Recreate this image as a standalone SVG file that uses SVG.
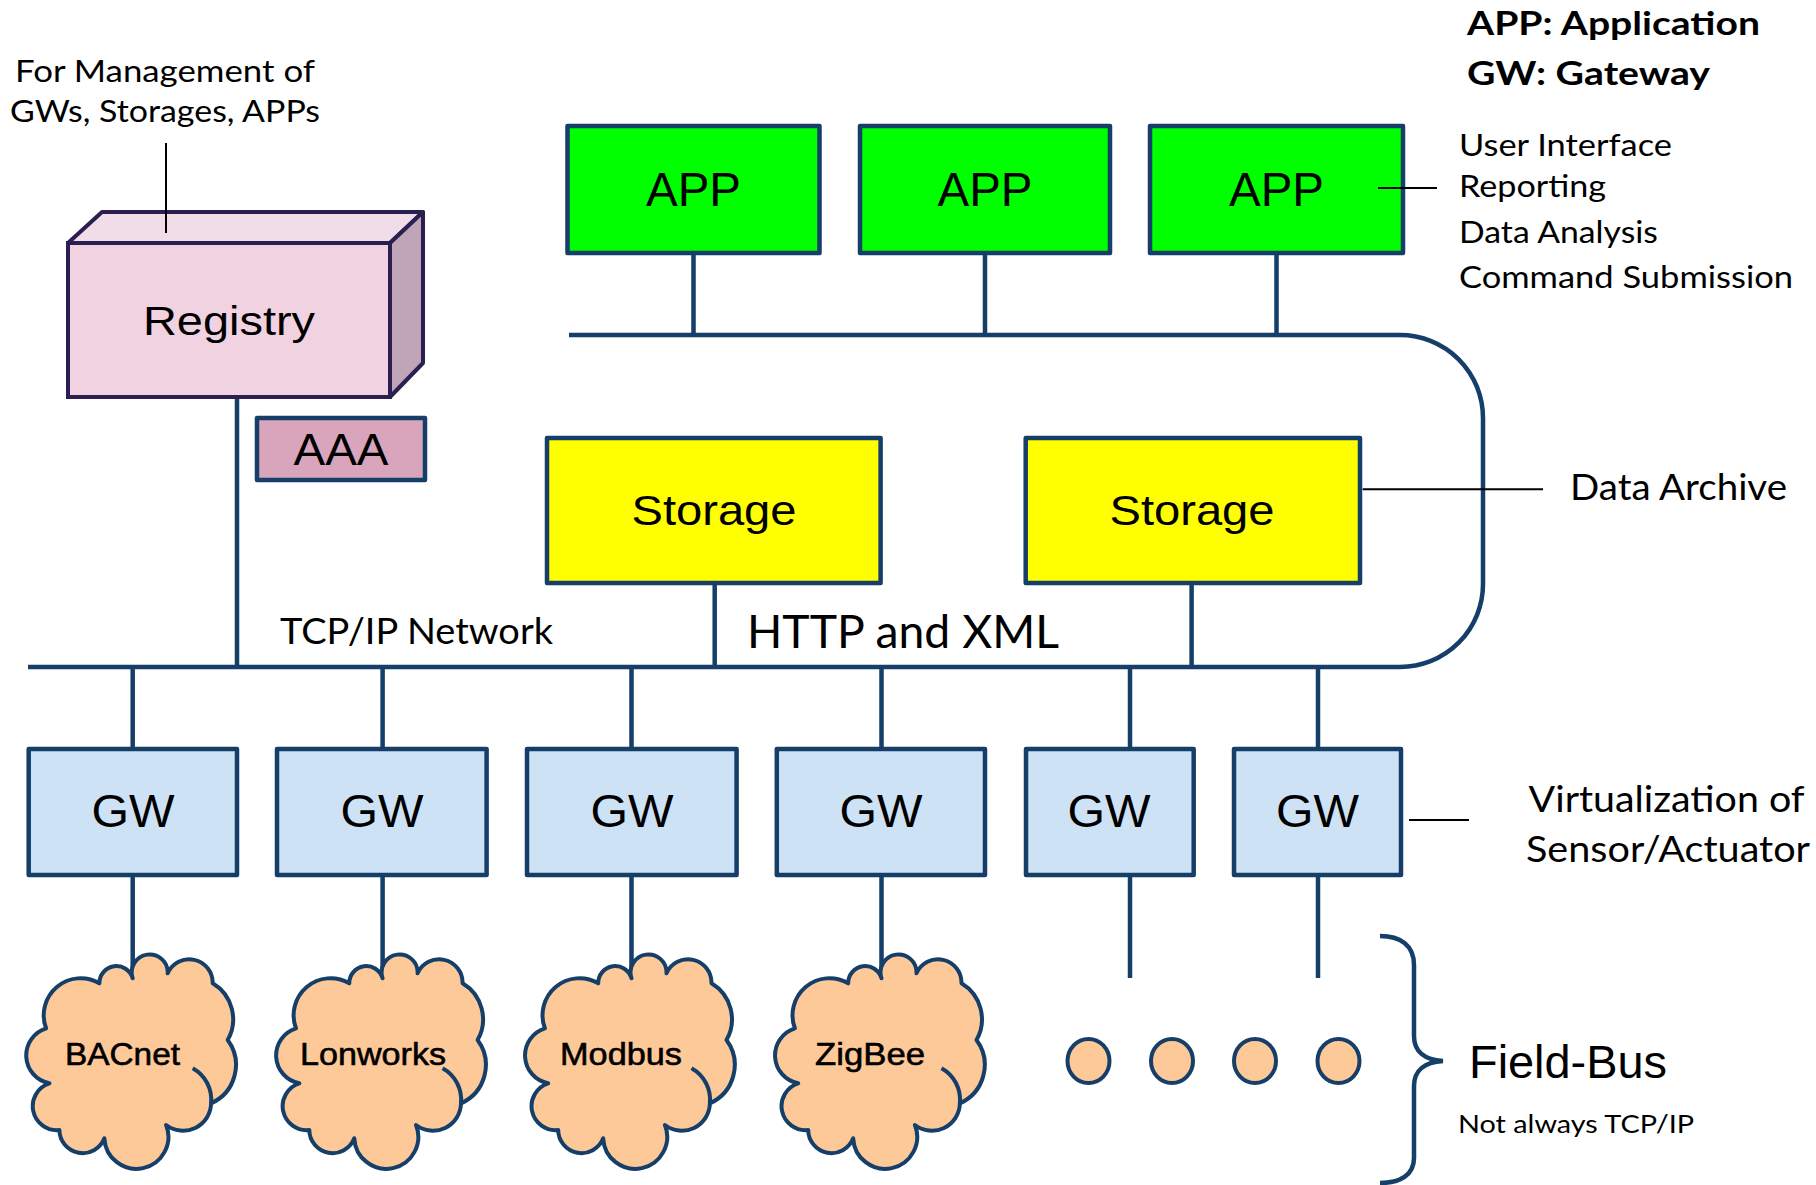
<svg xmlns="http://www.w3.org/2000/svg" width="1816" height="1185" viewBox="0 0 1816 1185">
<defs>
<style>
.bx{stroke:#153e69;stroke-width:4.5;stroke-linejoin:round}
.app{fill:#00ff00}
.sto{fill:#ffff00}
.gw{fill:#cee2f5}
.ln{fill:none;stroke:#153e69;stroke-width:4.5}
.thin{fill:none;stroke:#000;stroke-width:2}
.cl{fill:#fec999;stroke:#153e69;stroke-width:4;stroke-linejoin:round}
.ar{font-family:"Liberation Sans",Arial,sans-serif;fill:#000}
.ca{font-family:Lato,"Open Sans","Noto Sans",sans-serif;fill:#000}
.b{font-weight:bold}
.mid{text-anchor:middle}
.ct{stroke:#000;stroke-width:0.6}
</style>
<path id="cloud" d="M113.3,38.3 A18,18 0 1 1 148.3,33.3 A23.5,23.5 0 0 1 193.3,43.3 A42,42 0 0 1 208.3,100 A42,42 0 0 1 191.7,163.3 A28,28 0 0 1 146.7,185 A32,32 0 1 1 85,198.3 A23.3,23.3 0 0 1 40,190 A24,24 0 0 1 30,143.3 A28.4,28.4 0 0 1 26.7,88.3 A37,37 0 0 1 80,43.3 A17,17 0 0 1 113.3,38.3 Z"/>
<path id="cloudin" d="M173.3,128.3 A36,36 0 0 1 191.7,163.3"/>
</defs>

<g id="connectors">
<path class="ln" d="M28,667 H1400 A83,83 0 0 0 1483,584 V418 A83,83 0 0 0 1400,335 H569"/>
<path class="ln" d="M693.5,253 V335 M985,253 V335 M1276.5,253 V335"/>
<path class="ln" d="M237,397 V667 M714.7,583 V667 M1191.6,583 V667"/>
<path class="ln" d="M132.7,667 V749 M382.6,667 V749 M631.5,667 V749 M881.5,667 V749 M1130,667 V749 M1318,667 V749"/>
<path class="ln" d="M132.7,875 V978 M382.6,875 V978 M631.5,875 V978 M881.5,875 V978 M1130,875 V978 M1318,875 V978"/>
<path class="ln" d="M1380,936 C1400,936 1414,945 1414,965 V1036 C1414,1052 1425,1060 1443,1061 C1425,1062 1414,1070 1414,1086 V1158 C1414,1175 1400,1183 1380,1183"/>
</g>

<g id="registry">
<polygon points="68,243 102,212 423,212 390,243" fill="#f1dde8" stroke="#2a1f50" stroke-width="4" stroke-linejoin="round"/>
<polygon points="390,243 423,212 423,363 390,397" fill="#bfa5b7" stroke="#2a1f50" stroke-width="4" stroke-linejoin="round"/>
<rect x="68" y="243" width="322" height="154" fill="#f1d2e0" stroke="#2a1f50" stroke-width="4"/>
<text class="ar mid" x="229" y="335" font-size="40" textLength="172" lengthAdjust="spacingAndGlyphs">Registry</text>
</g>

<g id="aaa">
<rect class="bx" x="257" y="418" width="168" height="62" fill="#d9a5bd"/>
<text class="ar mid" x="341" y="465" font-size="44" textLength="95" lengthAdjust="spacingAndGlyphs">AAA</text>
</g>

<g id="app1"><rect class="bx app" x="567.5" y="126" width="252" height="127"/><text class="ar mid" x="693.5" y="206" font-size="48" textLength="95" lengthAdjust="spacingAndGlyphs">APP</text></g>
<g id="app2"><rect class="bx app" x="860" y="126" width="250" height="127"/><text class="ar mid" x="985" y="206" font-size="48" textLength="95" lengthAdjust="spacingAndGlyphs">APP</text></g>
<g id="app3"><rect class="bx app" x="1150" y="126" width="253" height="127"/><text class="ar mid" x="1276.5" y="206" font-size="48" textLength="95" lengthAdjust="spacingAndGlyphs">APP</text></g>

<g id="storage1"><rect class="bx sto" x="547" y="438" width="333.6" height="145"/><text class="ar mid" x="714" y="525" font-size="42" textLength="165" lengthAdjust="spacingAndGlyphs">Storage</text></g>
<g id="storage2"><rect class="bx sto" x="1025.7" y="438" width="334.3" height="145"/><text class="ar mid" x="1192" y="525" font-size="42" textLength="165" lengthAdjust="spacingAndGlyphs">Storage</text></g>

<g id="gw1"><rect class="bx gw" x="28.7" y="749" width="208.3" height="126"/><text class="ar mid" x="133" y="827" font-size="46" textLength="83" lengthAdjust="spacingAndGlyphs">GW</text></g>
<g id="gw2"><rect class="bx gw" x="277" y="749" width="209.6" height="126"/><text class="ar mid" x="382" y="827" font-size="46" textLength="83" lengthAdjust="spacingAndGlyphs">GW</text></g>
<g id="gw3"><rect class="bx gw" x="527" y="749" width="209.6" height="126"/><text class="ar mid" x="632" y="827" font-size="46" textLength="83" lengthAdjust="spacingAndGlyphs">GW</text></g>
<g id="gw4"><rect class="bx gw" x="776.8" y="749" width="208.2" height="126"/><text class="ar mid" x="881" y="827" font-size="46" textLength="83" lengthAdjust="spacingAndGlyphs">GW</text></g>
<g id="gw5"><rect class="bx gw" x="1026" y="749" width="167.7" height="126"/><text class="ar mid" x="1109" y="827" font-size="46" textLength="83" lengthAdjust="spacingAndGlyphs">GW</text></g>
<g id="gw6"><rect class="bx gw" x="1234" y="749" width="167" height="126"/><text class="ar mid" x="1317.5" y="827" font-size="46" textLength="83" lengthAdjust="spacingAndGlyphs">GW</text></g>

<g id="cloud-bacnet"><g transform="translate(19.4,940)"><use href="#cloud" class="cl"/><use href="#cloudin" class="cl" fill="none"/></g>
<text class="ar ct" x="65" y="1065" font-size="32" textLength="115" lengthAdjust="spacingAndGlyphs">BACnet</text></g>
<g id="cloud-lonworks"><g transform="translate(269.3,940)"><use href="#cloud" class="cl"/><use href="#cloudin" class="cl" fill="none"/></g>
<text class="ar ct" x="300" y="1065" font-size="32" textLength="146" lengthAdjust="spacingAndGlyphs">Lonworks</text></g>
<g id="cloud-modbus"><g transform="translate(518.2,940)"><use href="#cloud" class="cl"/><use href="#cloudin" class="cl" fill="none"/></g>
<text class="ar ct" x="560" y="1065" font-size="32" textLength="122" lengthAdjust="spacingAndGlyphs">Modbus</text></g>
<g id="cloud-zigbee"><g transform="translate(768.2,940)"><use href="#cloud" class="cl"/><use href="#cloudin" class="cl" fill="none"/></g>
<text class="ar ct" x="815" y="1065" font-size="32" textLength="110" lengthAdjust="spacingAndGlyphs">ZigBee</text></g>

<g id="dots">
<ellipse class="cl" cx="1088.5" cy="1061" rx="21" ry="22"/>
<ellipse class="cl" cx="1172" cy="1061" rx="21" ry="22"/>
<ellipse class="cl" cx="1255" cy="1061" rx="21" ry="22"/>
<ellipse class="cl" cx="1338.5" cy="1061" rx="21" ry="22"/>
</g>

<g id="annotations">
<path class="thin" d="M166,143 V233"/>
<path class="thin" d="M1378,188 H1437"/>
<path class="thin" d="M1362.7,489.3 H1543"/>
<path class="thin" d="M1409,820 H1469"/>
<text class="ca mid" x="165" y="82" font-size="31" textLength="300" lengthAdjust="spacingAndGlyphs">For Management of</text>
<text class="ca mid" x="165" y="122" font-size="31" textLength="310" lengthAdjust="spacingAndGlyphs">GWs, Storages, APPs</text>
<text class="ca b" x="1467" y="35" font-size="32" textLength="293" lengthAdjust="spacingAndGlyphs">APP: Application</text>
<text class="ca b" x="1467" y="85" font-size="32" textLength="243" lengthAdjust="spacingAndGlyphs">GW: Gateway</text>
<text class="ca" x="1459" y="156" font-size="30" textLength="213" lengthAdjust="spacingAndGlyphs">User Interface</text>
<text class="ca" x="1459" y="197" font-size="30" textLength="147" lengthAdjust="spacingAndGlyphs">Reporting</text>
<text class="ca" x="1459" y="243" font-size="30" textLength="199" lengthAdjust="spacingAndGlyphs">Data Analysis</text>
<text class="ca" x="1459" y="288" font-size="30" textLength="334" lengthAdjust="spacingAndGlyphs">Command Submission</text>
<text class="ca" x="1570" y="500" font-size="37" textLength="217" lengthAdjust="spacingAndGlyphs">Data Archive</text>
<text class="ca" x="280" y="644" font-size="36" textLength="273" lengthAdjust="spacingAndGlyphs">TCP/IP Network</text>
<text class="ca" x="747" y="648" font-size="46" textLength="312" lengthAdjust="spacingAndGlyphs">HTTP and XML</text>
<text class="ca" x="1528.6" y="812" font-size="37" textLength="276" lengthAdjust="spacingAndGlyphs">Virtualization of</text>
<text class="ca" x="1526" y="862" font-size="37" textLength="284" lengthAdjust="spacingAndGlyphs">Sensor/Actuator</text>
<text class="ar" x="1469" y="1078" font-size="46" textLength="198" lengthAdjust="spacingAndGlyphs">Field-Bus</text>
<text class="ca" x="1458" y="1133" font-size="25" textLength="236" lengthAdjust="spacingAndGlyphs">Not always TCP/IP</text>
</g>
</svg>
